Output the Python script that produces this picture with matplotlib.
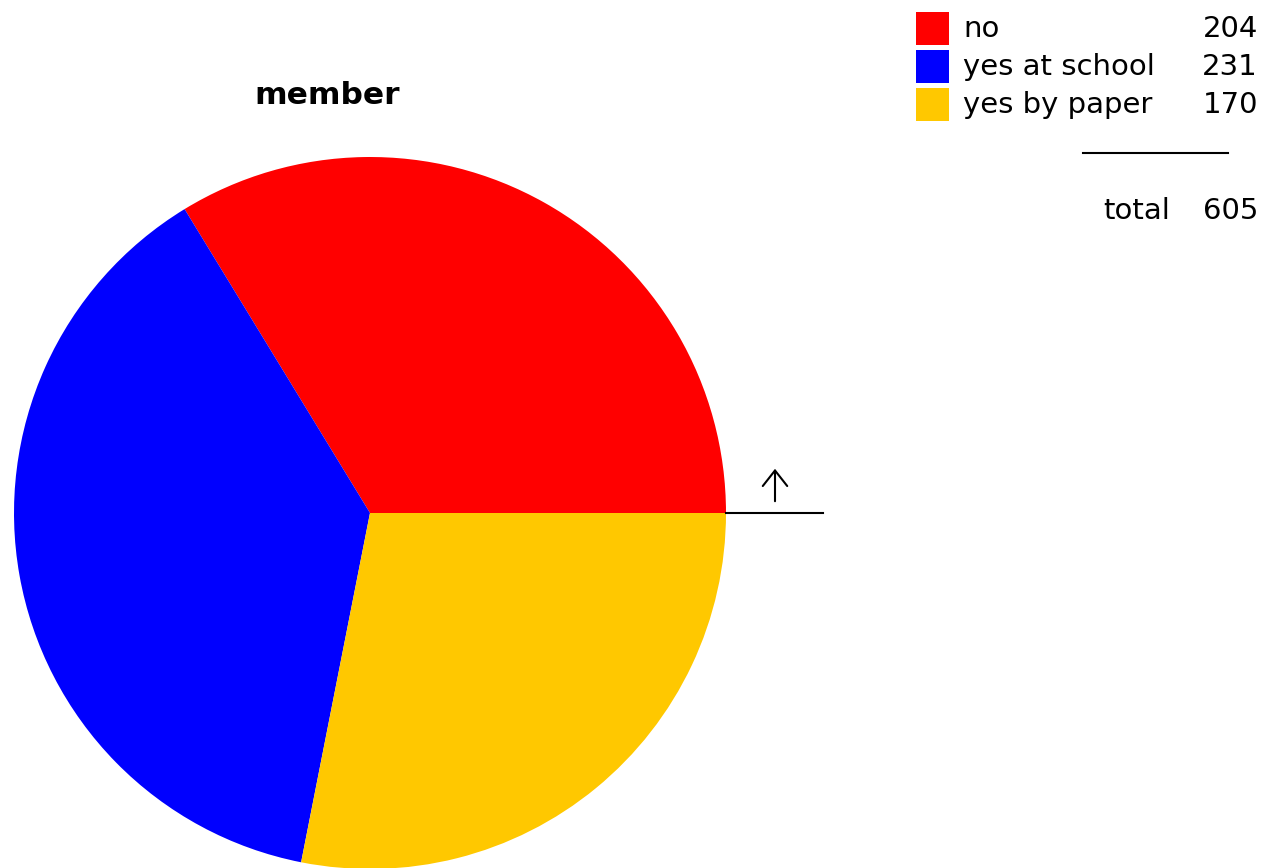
import matplotlib
matplotlib.use("Agg")
import matplotlib.pyplot as plt

plt.rcParams['font.family'] = ['DejaVu Sans']

labels = ['no', 'yes at school', 'yes by paper']
counts = [204, 231, 170]
colors = ['#ff0000', '#0000ff', '#ffc800']
title = 'member'

W, H = 1262, 868
fig = plt.figure(figsize=(W / 100, H / 100), dpi=100)
ax = fig.add_axes([0, 0, 1, 1])

# pie, starts at 3 o'clock, counterclockwise
cx, cy, r = 370, H - 513, 356
ax.pie(counts, colors=colors, startangle=0, counterclock=True,
       center=(cx, cy), radius=r, frame=True,
       wedgeprops=dict(linewidth=0))
ax.set_xlim(0, W)
ax.set_ylim(0, H)
ax.set_aspect('equal')
ax.axis('off')

ax.text(327, H - 95, title, fontsize=22.5, fontweight='bold',
        ha='center', va='center')

# start marker
ax.plot([cx + r, 823], [cy, cy], color='black', lw=1.5)
ax.annotate('', xy=(775, H - 466), xytext=(775, H - 504),
            arrowprops=dict(arrowstyle='->, head_length=0.28, head_width=0.22',
                            color='black', lw=1.5, mutation_scale=40))

# legend with counts
fs = 21
for i, (lab, n, c) in enumerate(zip(labels, counts, colors)):
    y = H - 29 - i * 38
    ax.add_patch(plt.Rectangle((916, y - 16), 33, 33, color=c, lw=0))
    ax.text(963, y, lab, fontsize=fs, ha='left', va='center')
    ax.text(1258, y, str(n), fontsize=fs, ha='right', va='center')

ax.plot([1083, 1228], [H - 153, H - 153], color='black', lw=1.5)
ax.text(1170, H - 211, 'total', fontsize=fs, ha='right', va='center')
ax.text(1258, H - 211, str(sum(counts)), fontsize=fs, ha='right', va='center')

fig.savefig('out.png', dpi=100)
